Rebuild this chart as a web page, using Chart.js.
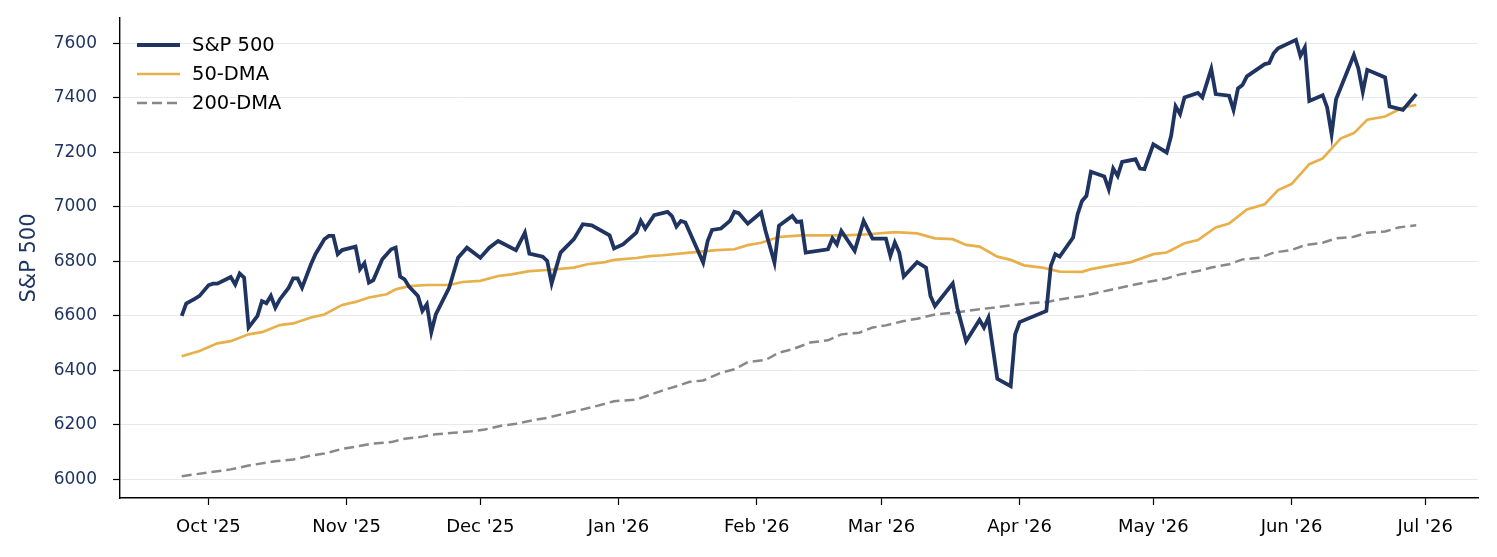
<!DOCTYPE html>
<html>
<head>
<meta charset="utf-8">
<script src="https://cdn.jsdelivr.net/npm/chart.js@4.4.1/dist/chart.umd.min.js"></script>
<style>
  html, body { margin: 0; padding: 0; background: #fff; }
  #wrap { width: 1497px; height: 557px; position: relative; }
</style>
</head>
<body>
<div id="wrap"><canvas id="spxChart"></canvas></div>
<script>
// S&P 500 close (turning points)
const spxDates = [
  '2025-09-25','2025-09-26','2025-09-28','2025-09-29','2025-10-01','2025-10-02','2025-10-03','2025-10-05',
  '2025-10-06','2025-10-07','2025-10-08','2025-10-09','2025-10-10','2025-10-12','2025-10-13','2025-10-14',
  '2025-10-15','2025-10-16','2025-10-17','2025-10-19','2025-10-20','2025-10-21','2025-10-22','2025-10-24',
  '2025-10-25','2025-10-27','2025-10-28','2025-10-29','2025-10-30','2025-10-31','2025-11-03','2025-11-04',
  '2025-11-05','2025-11-06','2025-11-07','2025-11-09','2025-11-11','2025-11-12','2025-11-13','2025-11-14',
  '2025-11-15','2025-11-17','2025-11-18','2025-11-19','2025-11-20','2025-11-21','2025-11-24','2025-11-26',
  '2025-11-28','2025-12-01','2025-12-03','2025-12-05','2025-12-09','2025-12-11','2025-12-12','2025-12-15',
  '2025-12-16','2025-12-17','2025-12-19','2025-12-22','2025-12-24','2025-12-26','2025-12-30','2025-12-31',
  '2026-01-02','2026-01-05','2026-01-06','2026-01-07','2026-01-09','2026-01-12','2026-01-13','2026-01-14',
  '2026-01-15','2026-01-16','2026-01-20','2026-01-21','2026-01-22','2026-01-24','2026-01-26','2026-01-27',
  '2026-01-28','2026-01-30','2026-02-02','2026-02-03','2026-02-05','2026-02-06','2026-02-09','2026-02-10',
  '2026-02-11','2026-02-12','2026-02-17','2026-02-18','2026-02-19','2026-02-20','2026-02-23','2026-02-25',
  '2026-02-27','2026-03-02','2026-03-03','2026-03-04','2026-03-05','2026-03-06','2026-03-09','2026-03-11',
  '2026-03-12','2026-03-13','2026-03-17','2026-03-18','2026-03-20','2026-03-23','2026-03-24','2026-03-25',
  '2026-03-27','2026-03-30','2026-03-31','2026-04-01','2026-04-07','2026-04-08','2026-04-09','2026-04-10',
  '2026-04-13','2026-04-14','2026-04-15','2026-04-16','2026-04-17','2026-04-20','2026-04-21','2026-04-22',
  '2026-04-23','2026-04-24','2026-04-27','2026-04-28','2026-04-29','2026-05-01','2026-05-04','2026-05-05',
  '2026-05-06','2026-05-07','2026-05-08','2026-05-11','2026-05-12','2026-05-14','2026-05-15','2026-05-18',
  '2026-05-19','2026-05-20','2026-05-21','2026-05-22','2026-05-26','2026-05-27','2026-05-28','2026-05-29',
  '2026-06-02','2026-06-03','2026-06-04','2026-06-05','2026-06-08','2026-06-09','2026-06-10','2026-06-11',
  '2026-06-15','2026-06-16','2026-06-17','2026-06-18','2026-06-22','2026-06-23','2026-06-26','2026-06-29'
];
const spxValues = [
  6600, 6645, 6663, 6673, 6712, 6718, 6718, 6734,
  6742, 6715, 6755, 6740, 6557, 6600, 6654, 6646,
  6673, 6630, 6660, 6703, 6737, 6737, 6703, 6789,
  6826, 6881, 6893, 6893, 6826, 6841, 6854, 6771,
  6793, 6722, 6731, 6807, 6844, 6850, 6744, 6734,
  6707, 6673, 6618, 6642, 6540, 6605, 6703, 6813,
  6850, 6813, 6850, 6874, 6841, 6905, 6828, 6817,
  6801, 6719, 6832, 6881, 6936, 6932, 6895, 6847,
  6862, 6905, 6948, 6920, 6969, 6981, 6966, 6927,
  6948, 6942, 6795, 6874, 6915, 6920, 6948, 6981,
  6976, 6938, 6979, 6911, 6795, 6930, 6966, 6944,
  6946, 6832, 6844, 6884, 6862, 6911, 6838, 6948,
  6883, 6883, 6820, 6869, 6832, 6744, 6797, 6777,
  6673, 6636, 6719, 6630, 6507, 6585, 6557, 6593,
  6369, 6342, 6532, 6577, 6618, 6783, 6826, 6817,
  6887, 6972, 7021, 7040, 7128, 7111, 7064, 7140,
  7113, 7164, 7174, 7140, 7138, 7229, 7199, 7260,
  7368, 7340, 7401, 7417, 7401, 7505, 7413, 7407,
  7355, 7434, 7446, 7478, 7523, 7527, 7563, 7581,
  7612, 7553, 7584, 7388, 7409, 7364, 7266, 7394,
  7556, 7507, 7421, 7502, 7474, 7368, 7355, 7413
];

// 50-day moving average
const dma50Dates = [
  '2025-09-25','2025-09-29','2025-10-03','2025-10-06','2025-10-10','2025-10-13','2025-10-17','2025-10-20',
  '2025-10-24','2025-10-27','2025-10-31','2025-11-03','2025-11-06','2025-11-10','2025-11-12','2025-11-15',
  '2025-11-19','2025-11-24','2025-11-27','2025-12-01','2025-12-05','2025-12-08','2025-12-12','2025-12-16',
  '2025-12-22','2025-12-25','2025-12-29','2025-12-31','2026-01-05','2026-01-08','2026-01-11','2026-01-17',
  '2026-01-23','2026-01-27','2026-01-30','2026-02-02','2026-02-06','2026-02-11','2026-02-21','2026-02-26',
  '2026-03-04','2026-03-09','2026-03-13','2026-03-17','2026-03-20','2026-03-23','2026-03-27','2026-03-30',
  '2026-04-02','2026-04-06','2026-04-10','2026-04-15','2026-04-17','2026-04-21','2026-04-26','2026-05-01',
  '2026-05-04','2026-05-08','2026-05-11','2026-05-15','2026-05-18','2026-05-22','2026-05-26','2026-05-29',
  '2026-06-01','2026-06-05','2026-06-08','2026-06-12','2026-06-15','2026-06-18','2026-06-22','2026-06-26',
  '2026-06-29'
];
const dma50Values = [
  6452, 6471, 6499, 6507, 6532, 6540, 6566, 6572,
  6594, 6605, 6640, 6651, 6667, 6679, 6697, 6709,
  6713, 6713, 6724, 6728, 6746, 6752, 6764, 6768,
  6777, 6789, 6797, 6805, 6812, 6819, 6822, 6832,
  6841, 6844, 6859, 6868, 6889, 6895, 6895, 6899,
  6907, 6902, 6884, 6881, 6860, 6854, 6817, 6805,
  6785, 6777, 6762, 6761, 6771, 6783, 6797, 6826,
  6832, 6866, 6878, 6924, 6938, 6990, 7009, 7061,
  7083, 7156, 7177, 7250, 7270, 7319, 7331, 7364,
  7373
];

// 200-day moving average
const dma200Dates = [
  '2025-09-25','2025-10-06','2025-10-10','2025-10-16','2025-10-20','2025-10-24','2025-10-27','2025-10-31',
  '2025-11-03','2025-11-07','2025-11-11','2025-11-14','2025-11-18','2025-11-21','2025-11-25','2025-11-29',
  '2025-12-02','2025-12-06','2025-12-09','2025-12-13','2025-12-16','2025-12-20','2025-12-24','2025-12-27',
  '2025-12-31','2026-01-05','2026-01-11','2026-01-14','2026-01-17','2026-01-20','2026-01-24','2026-01-27',
  '2026-01-30','2026-02-03','2026-02-06','2026-02-09','2026-02-13','2026-02-17','2026-02-20','2026-02-24',
  '2026-02-27','2026-03-02','2026-03-06','2026-03-09','2026-03-13','2026-03-17','2026-03-23','2026-03-26',
  '2026-03-30','2026-04-03','2026-04-07','2026-04-10','2026-04-15','2026-04-21','2026-04-29','2026-05-04',
  '2026-05-07','2026-05-11','2026-05-14','2026-05-18','2026-05-21','2026-05-25','2026-05-28','2026-06-01',
  '2026-06-04','2026-06-08','2026-06-11','2026-06-15','2026-06-18','2026-06-22','2026-06-25','2026-06-29'
];
const dma200Values = [
  6012, 6037, 6051, 6067, 6073, 6088, 6095, 6112,
  6120, 6132, 6137, 6149, 6157, 6166, 6171, 6177,
  6183, 6198, 6204, 6218, 6226, 6242, 6257, 6269,
  6287, 6293, 6327, 6342, 6358, 6363, 6391, 6404,
  6430, 6438, 6465, 6477, 6502, 6510, 6532, 6538,
  6557, 6565, 6581, 6589, 6605, 6611, 6624, 6630,
  6638, 6646, 6650, 6660, 6672, 6694, 6722, 6737,
  6752, 6764, 6777, 6789, 6807, 6813, 6832, 6841,
  6859, 6868, 6884, 6890, 6905, 6909, 6924, 6932
];

// x axis month ticks
const monthTicks = ['2025-10-01','2025-11-01','2025-12-01','2026-01-01','2026-02-01','2026-03-01','2026-04-01','2026-05-01','2026-06-01','2026-07-01'];
const monthLabels = ["Oct '25","Nov '25","Dec '25","Jan '26","Feb '26","Mar '26","Apr '26","May '26","Jun '26","Jul '26"];

const ORIGIN = Date.UTC(2025, 9, 1);
function dayOf(s) {
  const [y, m, d] = s.split('-').map(Number);
  return (Date.UTC(y, m - 1, d) - ORIGIN) / 86400000;
}
function pts(dates, vals) {
  return dates.map((d, i) => ({ x: dayOf(d), y: vals[i] }));
}
const tickDays = monthTicks.map(dayOf);

const FONT = 'DejaVu Sans';
const NAVY = '#1f3461';

// legend stacked vertically inside the plot, top left
const insideLegend = {
  id: 'insideLegend',
  afterDraw(chart) {
    const ctx = chart.ctx;
    const x0 = chart.chartArea.left + 17;
    let y = chart.chartArea.top + 27;
    ctx.save();
    ctx.font = '19.5px "' + FONT + '"';
    ctx.textBaseline = 'middle';
    chart.data.datasets.forEach(ds => {
      ctx.beginPath();
      ctx.strokeStyle = ds.borderColor;
      ctx.lineWidth = ds.borderWidth;
      ctx.setLineDash(ds.borderDash || []);
      ctx.moveTo(x0, y);
      ctx.lineTo(x0 + 43, y);
      ctx.stroke();
      ctx.setLineDash([]);
      ctx.fillStyle = '#000';
      ctx.fillText(ds.label, x0 + 55, y + 1);
      y += 29;
    });
    ctx.restore();
  }
};

new Chart(document.getElementById('spxChart'), {
  type: 'line',
  data: {
    datasets: [
      {
        label: 'S&P 500',
        data: pts(spxDates, spxValues),
        borderColor: NAVY,
        borderWidth: 3.8,
        pointRadius: 0,
        tension: 0,
        order: 1
      },
      {
        label: '50-DMA',
        data: pts(dma50Dates, dma50Values),
        borderColor: '#e8b04b',
        borderWidth: 2.7,
        pointRadius: 0,
        tension: 0,
        order: 2
      },
      {
        label: '200-DMA',
        data: pts(dma200Dates, dma200Values),
        borderColor: '#888888',
        borderWidth: 2.5,
        borderDash: [10, 5],
        pointRadius: 0,
        tension: 0,
        order: 3
      }
    ]
  },
  options: {
    responsive: true,
    maintainAspectRatio: false,
    animation: false,
    layout: { padding: { top: 18, right: 19, left: 0, bottom: 0 } },
    plugins: {
      legend: { display: false },
      tooltip: { enabled: false }
    },
    scales: {
      x: {
        type: 'linear',
        min: -19.85,
        max: 284.85,
        afterBuildTicks: s => { s.ticks = tickDays.map(v => ({ value: v })); },
        afterFit: s => { s.height = 59; s.paddingLeft = 0; s.paddingRight = 0; },
        border: { display: true, color: '#000', width: 1.4 },
        grid: { drawOnChartArea: false, drawTicks: true, tickLength: 7, tickColor: '#000', tickWidth: 1.2 },
        ticks: {
          autoSkip: false,
          maxRotation: 0,
          padding: 12,
          color: '#000',
          font: { family: FONT, size: 18 },
          callback: (v) => monthLabels[tickDays.indexOf(v)]
        }
      },
      y: {
        min: 5932,
        max: 7692,
        afterBuildTicks: s => {
          const t = [];
          for (let v = 6000; v <= 7600; v += 200) t.push({ value: v });
          s.ticks = t;
        },
        afterFit: s => { s.width = 120; s.paddingTop = 0; s.paddingBottom = 0; },
        border: { display: true, color: '#000', width: 1.4 },
        grid: { color: '#e6e9f0', lineWidth: 1, drawTicks: true, tickLength: 7, tickColor: '#000', tickWidth: 1.2 },
        ticks: {
          padding: 16,
          color: NAVY,
          font: { family: FONT, size: 17 },
          callback: v => String(v)
        },
        title: {
          display: true,
          text: 'S&P 500',
          color: NAVY,
          font: { family: FONT, size: 21 },
          padding: { top: 17, bottom: 0 }
        }
      }
    }
  },
  plugins: [insideLegend]
});
</script>
</body>
</html>
